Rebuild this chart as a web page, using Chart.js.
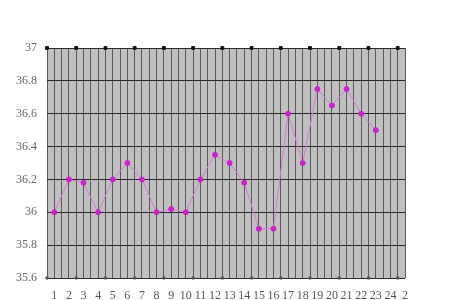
<!DOCTYPE html>
<html>
<head>
<meta charset="utf-8">
<script src="https://cdn.jsdelivr.net/npm/chart.js@4"></script>
<style>
  html, body { margin: 0; padding: 0; background: #fff; }
  #wrap { width: 450px; height: 300px; }
</style>
</head>
<body>
<div id="wrap"><canvas id="myChart" width="450" height="300"></canvas></div>
<script>
// day numbers and temperatures
const days = [1, 2, 3, 4, 5, 6, 7, 8, 9, 10, 11, 12, 13, 14, 15, 16, 17, 18, 19, 20, 21, 22, 23];
const temps = [36.0, 36.2, 36.18, 36.0, 36.2, 36.3, 36.2, 36.0, 36.02, 36.0, 36.2, 36.35,
   36.3, 36.18, 35.9, 35.9, 36.6, 36.3, 36.75, 36.65, 36.75, 36.6, 36.5];
const yTicks = [35.6, 35.8, 36, 36.2, 36.4, 36.6, 36.8, 37];
const markerX = [0.5, 2.5, 4.5, 6.5, 8.5, 10.5, 12.5, 14.5, 16.5, 18.5, 20.5, 22.5, 24.5];

const plotBg = {
   id: 'plotBg',
   beforeDraw(chart) {
      const a = chart.chartArea;
      const ctx = chart.ctx;
      ctx.save();
      ctx.fillStyle = '#c0c0c0';
      ctx.fillRect(a.left, a.top, a.right - a.left, a.bottom - a.top);
      ctx.restore();
   }
};

const tickFont = { family: 'Liberation Serif', size: 12 };

new Chart(document.getElementById('myChart'), {
   type: 'line',
   data: {
      datasets: [{
         data: days.map((d, i) => ({ x: d, y: temps[i] })),
         borderColor: '#d67ad6',
         borderWidth: 1,
         pointBackgroundColor: '#cc22cc',
         pointBorderColor: '#cc22cc',
         pointRadius: 2.5,
         tension: 0
      }, {
         data: markerX.map(x => ({ x: x, y: 37 })),
         showLine: false,
         pointStyle: 'rect',
         pointRadius: 2,
         pointBackgroundColor: '#111',
         pointBorderColor: '#111',
         clip: false
      }, {
         data: markerX.map(x => ({ x: x, y: 35.6 })),
         showLine: false,
         pointStyle: 'rect',
         pointRadius: 1.5,
         pointBackgroundColor: '#555',
         pointBorderColor: '#555',
         clip: false
      }]
   },
   options: {
      responsive: false,
      animation: false,
      layout: { padding: { left: 0, right: 45, top: 48, bottom: 0 } },
      plugins: { legend: { display: false }, tooltip: { enabled: false } },
      scales: {
         x: {
            type: 'linear',
            min: 0.5,
            max: 25,
            afterFit(s) { s.height = 22; },
            grid: { color: '#5a5a5a', lineWidth: 1, drawTicks: false },
            border: { display: false },
            ticks: {
               stepSize: 0.5,
               autoSkip: false,
               maxRotation: 0,
               padding: 11,
               color: '#555',
               font: tickFont,
               callback: v => Number.isInteger(v) ? (v === 25 ? '2' : String(v)) : ''
            }
         },
         y: {
            min: 35.6,
            max: 37,
            afterFit(s) { s.width = 47; },
            afterBuildTicks(s) { s.ticks = yTicks.map(v => ({ value: v })); },
            grid: { color: '#2a2a2a', lineWidth: 1, drawTicks: false },
            border: { display: false },
            ticks: {
               padding: 10,
               color: '#666',
               font: tickFont,
               callback: v => String(Math.round(v * 10) / 10)
            }
         }
      }
   },
   plugins: [plotBg]
});
</script>
</body>
</html>
